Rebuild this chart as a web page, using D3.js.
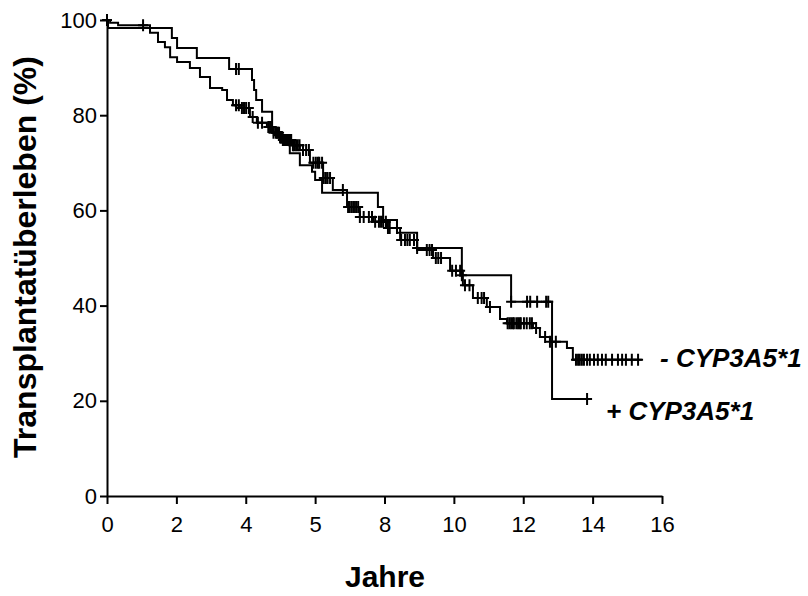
<!DOCTYPE html>
<html>
<head>
<meta charset="utf-8">
<script src="https://cdn.jsdelivr.net/npm/d3@7"></script>
<style>
  body { margin: 0; background: #fff; }
  svg { display: block; font-family: "Liberation Sans", Arial, sans-serif; }
  .axis path, .axis line { stroke: #000; stroke-width: 2px; }
  .axis text { font-size: 22px; fill: #000; }
</style>
</head>
<body>
<script>

let width = 808;
let height = 596;

// Kaplan-Meier, - CYP3A5*1 (many patients)
let minusTimes = [0.09, 0.32, 1.24, 1.47, 1.67, 1.82, 2.02, 2.39, 2.68, 2.97, 3.32, 3.46, 3.63, 3.83,
	4.12, 4.32, 4.61, 4.78, 4.99, 5.07, 5.36, 5.56, 5.85, 6.23, 6.51, 6.92, 7.29, 7.67, 8.07, 8.45,
	8.94, 9.40, 9.89, 10.26, 10.55, 10.95, 11.33, 11.53, 12.28, 12.48, 12.77, 13.26, 13.43];
let minusSurv = [99.4, 98.9, 97.3, 95.4, 94.3, 92.2, 91.2, 89.9, 88.0, 85.7, 85.3, 83.2, 82.1, 81.5,
	79.6, 78.4, 77.5, 76.3, 75.4, 74.8, 73.7, 72.7, 70.0, 66.8, 64.3, 60.7, 58.6, 57.6, 56.3, 53.8,
	51.7, 50.0, 47.3, 44.3, 41.6, 39.7, 37.2, 36.3, 35.3, 33.4, 32.4, 31.1, 28.6];
let minusEnd = 15.42;
let minusCensor = [0, 1.04, 3.72, 3.80, 3.89, 3.95, 4.01, 4.09, 4.20, 4.35, 4.47, 4.65, 4.70, 4.75,
	4.80, 4.87, 4.90, 4.93, 4.96, 4.99, 5.01, 5.04, 5.07, 5.10, 5.13, 5.16, 5.19, 5.22, 5.25, 5.28,
	5.31, 5.36, 5.40, 5.45, 5.50, 5.55, 5.65, 5.74, 5.82, 5.95, 6.02, 6.08, 6.12, 6.20, 6.25, 6.31,
	6.36, 6.43, 6.80, 6.95, 7.00, 7.06, 7.12, 7.18, 7.24, 7.29, 7.40, 7.55, 7.64, 7.73, 7.84, 7.90,
	7.96, 8.04, 8.10, 8.15, 8.36, 8.48, 8.59, 8.66, 8.73, 8.85, 9.22, 9.30, 9.37, 9.48, 9.55, 9.63,
	9.95, 10.06, 10.18, 10.32, 10.45, 10.69, 10.80, 10.87, 11.04, 11.55, 11.60, 11.65, 11.70, 11.73,
	11.80, 11.85, 11.90, 11.93, 12.02, 12.10, 12.19, 12.25, 12.37, 12.63, 12.77, 12.94, 13.52, 13.58,
	13.63, 13.69, 13.75, 13.84, 13.92, 14.04, 14.15, 14.27, 14.38, 14.56, 14.73, 14.85, 14.96, 15.13,
	15.31];

// Kaplan-Meier, + CYP3A5*1
let plusTimes = [0.03, 1.87, 2.02, 2.59, 3.52, 4.18, 4.24, 4.30, 4.47, 4.76, 4.81, 5.00, 5.27, 5.56,
	5.91, 6.00, 6.20, 7.81, 7.96, 8.36, 8.94, 10.23, 11.65, 12.83];
let plusSurv = [98.3, 96.2, 94.1, 92.0, 89.7, 87.4, 85.3, 83.2, 80.7, 77.5, 75.8, 74.2, 72.0, 69.5,
	68.1, 66.4, 63.7, 60.7, 58.0, 55.3, 52.1, 46.4, 40.8, 20.4];
let plusEnd = 13.84;
let plusCensor = [3.72, 3.80, 8.94, 10.23, 11.65, 12.11, 12.20, 12.40, 12.66, 12.72, 13.84];

let xTickValues = [0, 2, 4, 6, 8, 10, 12, 14, 16];
let xTickLabels = ["0", "2", "4", "5", "8", "10", "12", "14", "16"];
let yTickValues = [0, 20, 40, 60, 80, 100];

let xScale = d3.scaleLinear()
	.domain([0, 16])
	.range([107, 662]);

let yScale = d3.scaleLinear()
	.domain([0, 100])
	.range([496, 20]);

let svg = d3.select("body")
	.append("svg")
		.attr("width", width)
		.attr("height", height);

// Axes
let xAxis = d3.axisBottom(xScale)
	.tickValues(xTickValues)
	.tickFormat((d, i) => xTickLabels[i])
	.tickSize(8)
	.tickSizeOuter(0)
	.tickPadding(12);

let yAxis = d3.axisLeft(yScale)
	.tickValues(yTickValues)
	.tickSize(7)
	.tickSizeOuter(0)
	.tickPadding(3);

svg.append("g")
	.attr("class", "x axis")
	.attr("transform", "translate(0," + yScale(0) + ")")
	.call(xAxis);

svg.append("g")
	.attr("class", "y axis")
	.attr("transform", "translate(" + xScale(0) + ",0)")
	.call(yAxis);

svg.selectAll(".axis text").attr("font-family", "Liberation Sans, Arial, sans-serif");

// Curves
function kmPoints(times, surv, end) {
	let pts = [{t: 0, s: 100}];
	times.forEach((t, i) => pts.push({t: t, s: surv[i]}));
	pts.push({t: end, s: surv[surv.length - 1]});
	return pts;
}

function survAt(times, surv, t) {
	let s = 100;
	times.forEach((tt, i) => { if (tt <= t) s = surv[i]; });
	return s;
}

let line = d3.line()
	.x(d => xScale(d.t))
	.y(d => yScale(d.s))
	.curve(d3.curveStepAfter);

let groups = [
	{times: minusTimes, surv: minusSurv, end: minusEnd, censor: minusCensor},
	{times: plusTimes, surv: plusSurv, end: plusEnd, censor: plusCensor}
];

groups.forEach((g) => {
	svg.append("path")
		.datum(kmPoints(g.times, g.surv, g.end))
		.attr("d", line)
		.style("fill", "none")
		.style("stroke", "#000")
		.style("stroke-width", "2px");

	// censored patients
	svg.append("g")
		.selectAll("path")
		.data(g.censor)
		.enter().append("path")
			.attr("d", (t) => {
				let cx = xScale(t);
				let cy = yScale(survAt(g.times, g.surv, t));
				return "M" + (cx - 5) + "," + cy + "H" + (cx + 5) + "M" + cx + "," + (cy - 6) + "V" + (cy + 6);
			})
			.style("fill", "none")
			.style("stroke", "#000")
			.style("stroke-width", "2px");
});

// Labels
svg.append("text")
	.attr("x", 660)
	.attr("y", 367)
	.style("font-size", "26px")
	.style("font-weight", "bold")
	.style("font-style", "italic")
	.text("- CYP3A5*1");

svg.append("text")
	.attr("x", 606)
	.attr("y", 420)
	.style("font-size", "26px")
	.style("font-weight", "bold")
	.style("font-style", "italic")
	.text("+ CYP3A5*1");

svg.append("text")
	.attr("x", 385)
	.attr("y", 587)
	.attr("text-anchor", "middle")
	.style("font-size", "30px")
	.style("font-weight", "bold")
	.text("Jahre");

svg.append("text")
	.attr("transform", "translate(36,257) rotate(-90)")
	.attr("text-anchor", "middle")
	.style("font-size", "32px")
	.style("font-weight", "bold")
	.text("Transplantatüberleben (%)");

</script>
</body>
</html>
